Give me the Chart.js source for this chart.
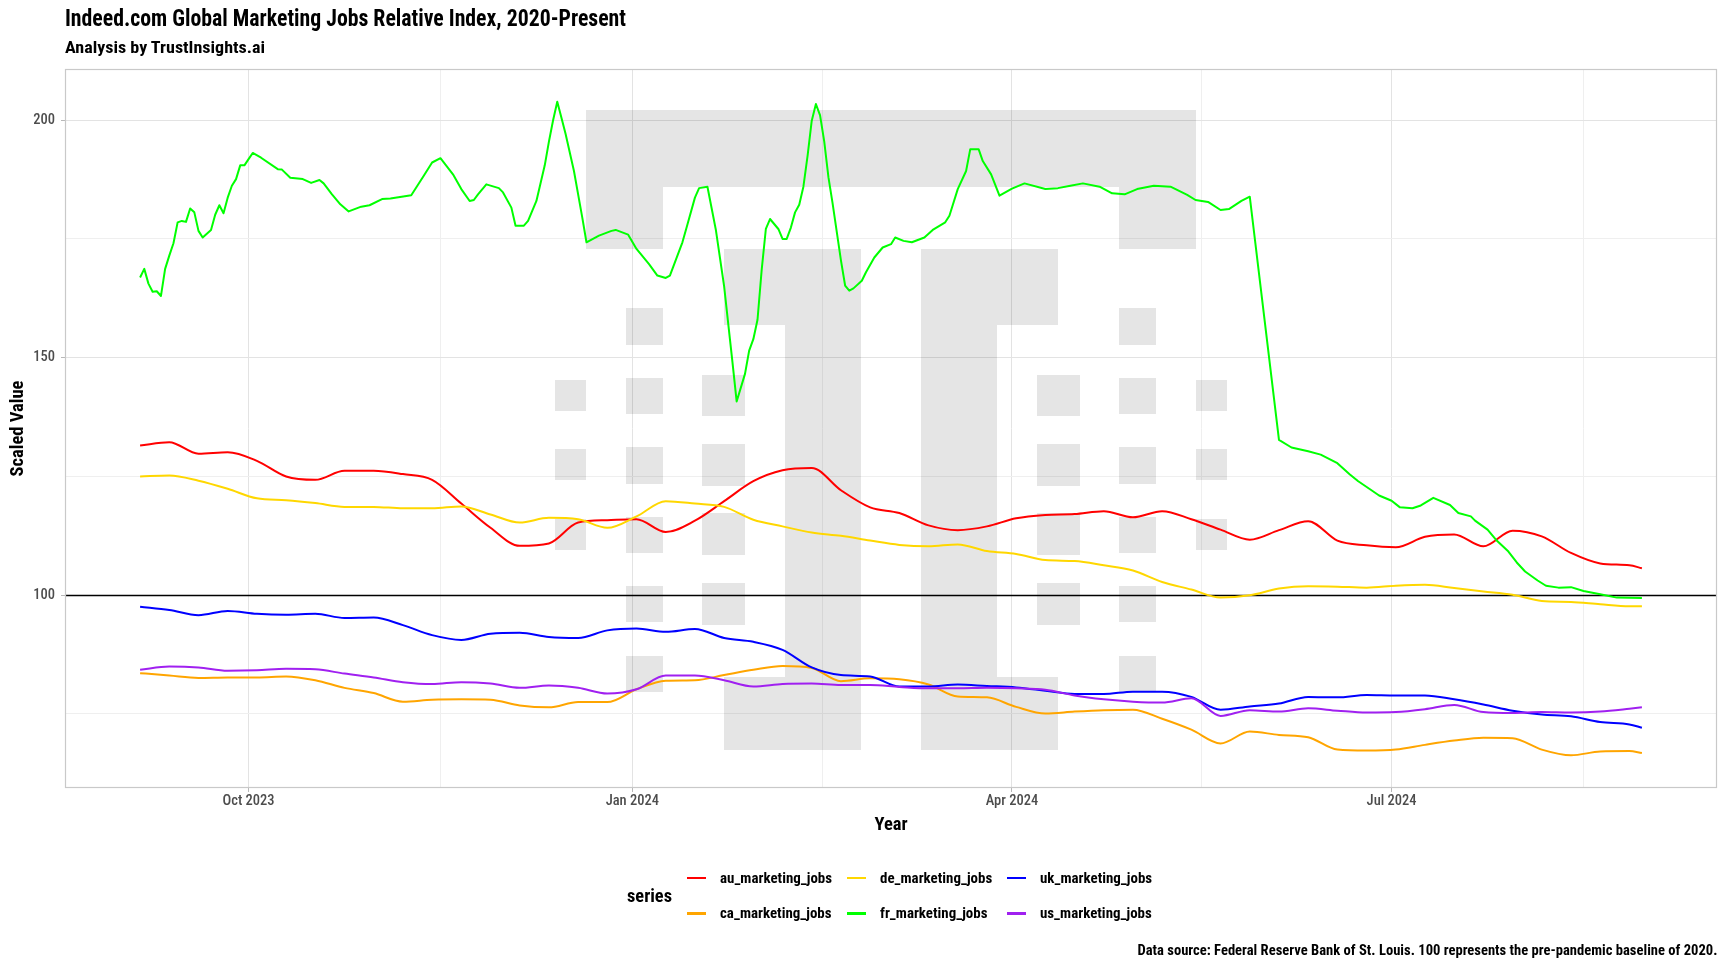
<!DOCTYPE html>
<html>
<head>
<meta charset="utf-8">
<script src="https://cdn.jsdelivr.net/npm/chart.js@4.4.1/dist/chart.umd.min.js"></script>
<style>
  html, body { margin: 0; padding: 0; background: #ffffff; }
  #wrap { position: relative; width: 1728px; height: 972px; overflow: hidden; background: #fff; }
  #c { position: absolute; left: 0; top: 0; }
  .t { position: absolute; font-family: "Roboto Condensed", Roboto, "Liberation Sans", sans-serif; color: #000; white-space: nowrap; }
  #title { left: 65px; top: 5px; font-size: 23px; font-weight: 700; line-height: 27px; transform-origin: 0 50%; }
  #subtitle { left: 65px; top: 37px; font-size: 17px; font-weight: 700; line-height: 21px; transform-origin: 0 50%; }
  #caption { right: 11px; top: 941px; font-size: 14.5px; font-weight: 700; line-height: 20px; transform-origin: 100% 50%; }
  #legend { position: absolute; left: 627px; top: 860px; display: flex; align-items: center;
            font-family: "Roboto Condensed", Roboto, "Liberation Sans", sans-serif; }
  #legend .lt { font-size: 18.5px; font-weight: 700; width: 59.6px; flex: 0 0 59.6px; }
  #legend .lt span { display: inline-block; transform-origin: 0 50%; }
  #legend .grid { display: grid; grid-auto-flow: column; grid-template-rows: 35.6px 35.6px; grid-auto-columns: 160.4px; }
  #legend .item { display: flex; align-items: center; font-size: 15px; font-weight: 700; white-space: nowrap; }
  #legend .key { flex: 0 0 19px; width: 19px; height: 2.6px; margin-right: 14px; }
  #legend .lbl { display: inline-block; transform-origin: 0 50%; }
</style>
</head>
<body>
<div id="wrap">
  <canvas id="c" width="1728" height="972"></canvas>
  <div class="t" id="title">Indeed.com Global Marketing Jobs Relative Index, 2020-Present</div>
  <div class="t" id="subtitle">Analysis by TrustInsights.ai</div>
  <div class="t" id="caption">Data source: Federal Reserve Bank of St. Louis. 100 represents the pre-pandemic baseline of 2020.</div>
  <div id="legend"><div class="lt"><span id="legendTitle">series</span></div><div class="grid" id="legendGrid"></div></div>
</div>
<script>
// ---------------- DATA ----------------
const weekDates = ["2023-09-05","2023-09-12","2023-09-19","2023-09-26","2023-10-03","2023-10-10","2023-10-17","2023-10-24","2023-10-31","2023-11-07","2023-11-14","2023-11-21","2023-11-28","2023-12-05","2023-12-12","2023-12-19","2023-12-26","2024-01-02","2024-01-09","2024-01-16","2024-01-23","2024-01-30","2024-02-06","2024-02-13","2024-02-20","2024-02-27","2024-03-05","2024-03-12","2024-03-19","2024-03-26","2024-04-02","2024-04-09","2024-04-16","2024-04-23","2024-04-30","2024-05-07","2024-05-14","2024-05-21","2024-05-28","2024-06-04","2024-06-11","2024-06-18","2024-06-25","2024-07-02","2024-07-09","2024-07-16","2024-07-23","2024-07-30","2024-08-06","2024-08-13","2024-08-20","2024-08-27","2024-08-30"];

const auValues = [131.5,132.2,129.8,130.1,128.3,125.0,124.3,126.2,126.2,125.5,124.3,119.3,114.2,110.4,110.9,115.3,115.8,116.0,113.3,115.7,119.8,124.0,126.3,126.8,122.1,118.5,117.3,114.7,113.7,114.5,116.2,116.9,117.1,117.7,116.4,117.7,116.0,113.8,111.7,113.7,115.6,111.5,110.5,110.1,112.3,112.8,110.3,113.6,112.4,108.9,106.7,106.3,105.7];

const caValues = [83.6,83.1,82.6,82.7,82.7,82.9,82.1,80.5,79.4,77.6,78.0,78.1,78.0,76.8,76.4,77.5,77.5,80.2,82.0,82.1,83.2,84.3,85.1,84.7,81.9,82.5,82.3,81.2,78.7,78.5,76.5,75.1,75.5,75.8,75.9,74.0,71.7,68.8,71.3,70.6,70.1,67.5,67.3,67.5,68.5,69.4,70.0,69.9,67.5,66.3,67.1,67.2,66.8];

const deValues = [125.0,125.2,124.1,122.4,120.4,120.0,119.4,118.6,118.6,118.3,118.3,118.7,117.0,115.3,116.3,116.0,114.2,116.6,119.8,119.3,118.6,115.9,114.5,113.2,112.5,111.5,110.6,110.3,110.7,109.3,108.7,107.4,107.2,106.3,105.2,102.8,101.2,99.5,100.0,101.4,101.9,101.8,101.6,102.0,102.2,101.5,100.8,100.1,98.8,98.6,98.1,97.7,97.7];

const ukValues = [97.6,96.9,95.8,96.7,96.1,95.9,96.1,95.2,95.3,93.7,91.6,90.6,91.9,92.1,91.2,91.0,92.6,93.0,92.3,92.9,91.0,90.2,88.5,84.8,83.2,82.9,80.8,80.8,81.2,80.9,80.6,79.9,79.2,79.2,79.7,79.7,78.6,75.9,76.6,77.2,78.6,78.5,79.0,78.9,78.9,78.1,77.0,75.7,74.9,74.5,73.3,72.8,72.1];

const usValues = [84.3,85.0,84.8,84.1,84.2,84.5,84.4,83.5,82.7,81.7,81.3,81.7,81.4,80.5,81.0,80.5,79.3,80.2,83.1,83.1,82.1,80.8,81.3,81.4,81.1,81.1,80.7,80.4,80.4,80.5,80.4,80.1,78.9,78.1,77.6,77.4,78.3,74.6,75.8,75.5,76.2,75.7,75.3,75.4,76.0,76.9,75.4,75.2,75.4,75.3,75.5,76.1,76.4];

const frDates = ["2023-09-05","2023-09-06","2023-09-07","2023-09-08","2023-09-09","2023-09-10","2023-09-11","2023-09-12","2023-09-13","2023-09-14","2023-09-15","2023-09-16","2023-09-17","2023-09-18","2023-09-19","2023-09-20","2023-09-22","2023-09-23","2023-09-24","2023-09-25","2023-09-26","2023-09-27","2023-09-28","2023-09-29","2023-09-30","2023-10-01","2023-10-02","2023-10-04","2023-10-08","2023-10-09","2023-10-11","2023-10-14","2023-10-16","2023-10-18","2023-10-19","2023-10-21","2023-10-23","2023-10-25","2023-10-28","2023-10-30","2023-11-02","2023-11-04","2023-11-09","2023-11-12","2023-11-14","2023-11-16","2023-11-19","2023-11-21","2023-11-23","2023-11-24","2023-11-25","2023-11-27","2023-11-30","2023-12-01","2023-12-03","2023-12-04","2023-12-06","2023-12-07","2023-12-09","2023-12-11","2023-12-12","2023-12-13","2023-12-14","2023-12-15","2023-12-16","2023-12-18","2023-12-20","2023-12-21","2023-12-24","2023-12-27","2023-12-28","2023-12-31","2024-01-02","2024-01-05","2024-01-07","2024-01-09","2024-01-10","2024-01-13","2024-01-14","2024-01-16","2024-01-17","2024-01-19","2024-01-21","2024-01-22","2024-01-23","2024-01-24","2024-01-25","2024-01-26","2024-01-28","2024-01-29","2024-01-30","2024-01-31","2024-02-01","2024-02-02","2024-02-03","2024-02-05","2024-02-06","2024-02-07","2024-02-08","2024-02-09","2024-02-10","2024-02-11","2024-02-12","2024-02-13","2024-02-14","2024-02-15","2024-02-16","2024-02-17","2024-02-18","2024-02-19","2024-02-20","2024-02-21","2024-02-22","2024-02-23","2024-02-25","2024-02-26","2024-02-28","2024-03-01","2024-03-03","2024-03-04","2024-03-06","2024-03-08","2024-03-11","2024-03-13","2024-03-16","2024-03-17","2024-03-19","2024-03-21","2024-03-22","2024-03-24","2024-03-25","2024-03-27","2024-03-29","2024-04-01","2024-04-04","2024-04-09","2024-04-12","2024-04-15","2024-04-18","2024-04-22","2024-04-25","2024-04-28","2024-05-01","2024-05-05","2024-05-09","2024-05-13","2024-05-15","2024-05-18","2024-05-21","2024-05-23","2024-05-26","2024-05-28","2024-06-04","2024-06-07","2024-06-11","2024-06-14","2024-06-18","2024-06-21","2024-06-23","2024-06-26","2024-06-28","2024-07-01","2024-07-03","2024-07-06","2024-07-08","2024-07-11","2024-07-15","2024-07-17","2024-07-20","2024-07-21","2024-07-24","2024-07-26","2024-07-29","2024-07-31","2024-08-02","2024-08-05","2024-08-07","2024-08-10","2024-08-13","2024-08-16","2024-08-20","2024-08-24","2024-08-30"];

const frValues = [166.9,168.7,165.6,163.9,164.0,163.0,168.7,171.5,174.1,178.5,178.8,178.6,181.4,180.6,176.7,175.3,176.9,180.1,182.1,180.4,183.7,186.2,187.6,190.5,190.5,191.8,193.1,192.1,189.7,189.6,187.9,187.6,186.8,187.4,186.7,184.4,182.3,180.8,181.8,182.1,183.4,183.5,184.2,188.3,191.1,192.0,188.6,185.5,183.0,183.2,184.4,186.5,185.7,184.8,181.6,177.8,177.8,178.8,183.0,190.5,195.5,200.0,203.9,200.5,197.1,189.3,179.5,174.3,175.7,176.7,176.9,175.9,172.9,169.7,167.3,166.8,167.3,174.3,177.4,183.7,185.7,186.0,177.0,171.0,165.0,157.0,149.0,140.8,146.6,151.5,153.9,158.0,168.5,177.1,179.2,177.1,175.0,175.0,177.4,180.6,182.2,186.0,192.5,199.9,203.4,201.0,195.5,188.0,182.5,176.5,170.5,165.2,164.1,164.6,166.2,168.0,171.1,173.2,173.9,175.3,174.6,174.3,175.3,176.9,178.5,179.9,185.5,189.3,193.9,193.9,191.4,188.6,184.1,185.6,186.7,185.5,185.7,186.2,186.7,186.0,184.6,184.4,185.5,186.2,186.0,184.3,183.2,182.8,181.1,181.3,183.0,183.9,132.7,131.1,130.3,129.6,127.8,125.4,124.0,122.2,121.0,119.9,118.5,118.3,118.9,120.5,119.0,117.3,116.6,115.7,113.8,111.7,109.2,106.9,105.0,103.1,102.0,101.6,101.7,100.9,100.2,99.5,99.4];

const seriesNames = ["au_marketing_jobs","ca_marketing_jobs","de_marketing_jobs","fr_marketing_jobs","uk_marketing_jobs","us_marketing_jobs"];
const seriesColors = ["#FF0000","#FFA500","#FFD700","#00FF00","#0000FF","#A020F0"];

const xTickDates = ["2023-07-01","2023-10-01","2024-01-01","2024-04-01","2024-07-01","2024-10-01"];
const xTickLabels = ["Jul 2023","Oct 2023","Jan 2024","Apr 2024","Jul 2024","Oct 2024"];
const yTickValues = [50,100,150,200,250];
const baselineValue = 100;

// ---------------- BUILD ----------------
const FONT = '"Roboto Condensed", Roboto, "Liberation Sans", sans-serif';
const DAY = 86400000;
const toDay = s => Date.parse(s + 'T00:00:00Z') / DAY;

const seriesValues = [auValues, caValues, deValues, frValues, ukValues, usValues];
const seriesDates = [weekDates, weekDates, weekDates, frDates, weekDates, weekDates];

const datasets = seriesNames.map((name, i) => ({
  label: name,
  data: seriesDates[i].map((d, j) => ({ x: toDay(d), y: seriesValues[i][j] })),
  borderColor: seriesColors[i],
  backgroundColor: seriesColors[i],
  borderWidth: 2,
  pointRadius: 0,
  pointHoverRadius: 0,
  tension: 0,
  cubicInterpolationMode: seriesDates[i] === weekDates ? 'monotone' : 'default',
  fill: false,
  borderJoinStyle: 'round',
  order: seriesNames.length - i
}));

const allX = datasets.flatMap(d => d.data.map(p => p.x));
const allY = datasets.flatMap(d => d.data.map(p => p.y));
const xLo = Math.min(...allX), xHi = Math.max(...allX);
const yLo = Math.min(...allY), yHi = Math.max(...allY);
const xMin = xLo - (xHi - xLo) * 0.05, xMax = xHi + (xHi - xLo) * 0.05;
const yMin = yLo - (yHi - yLo) * 0.05, yMax = yHi + (yHi - yLo) * 0.05;

function buildTicks(values, labels, lo, hi) {
  const out = [];
  values.forEach((v, i) => {
    out.push({ value: v, text: labels[i], minor: false });
    if (i < values.length - 1) out.push({ value: (v + values[i + 1]) / 2, text: '', minor: true });
  });
  return out.filter(t => t.value >= lo && t.value <= hi);
}
const xTicks = buildTicks(xTickDates.map(toDay), xTickLabels, xMin, xMax);
const yTicks = buildTicks(yTickValues, yTickValues.map(String), yMin, yMax);

const GRID_MAJOR = '#e3e3e3';
const GRID_MINOR = '#efefef';
const TICK_COL = '#b8b8b8';

// watermark (left half, fractions of plot panel; mirrored about the centre)
const watermarkHalf = [
  [0.3156, 0.5000, 0.0576, 0.1641],
  [0.3156, 0.3618, 0.1641, 0.2497],
  [0.3989, 0.4817, 0.2497, 0.3567],
  [0.4356, 0.4817, 0.3567, 0.8457],
  [0.3989, 0.4817, 0.8457, 0.9478],
  [0.2969, 0.3156, 0.4325, 0.4754], [0.2969, 0.3156, 0.5291, 0.5721], [0.2969, 0.3156, 0.6257, 0.6688],
  [0.3396, 0.3618, 0.3329, 0.3835], [0.3396, 0.3618, 0.4294, 0.4801], [0.3396, 0.3618, 0.5260, 0.5767],
  [0.3396, 0.3618, 0.6226, 0.6733], [0.3396, 0.3618, 0.7193, 0.7698], [0.3396, 0.3618, 0.8159, 0.8664],
  [0.3856, 0.4116, 0.4249, 0.4832], [0.3856, 0.4116, 0.5213, 0.5797], [0.3856, 0.4116, 0.6180, 0.6763],
  [0.3856, 0.4116, 0.7147, 0.7729]
];

const panelPlugin = {
  id: 'panel',
  beforeDatasetsDraw(chart) {
    const { ctx, chartArea: a } = chart;
    ctx.save();
    ctx.beginPath();
    const addRect = (x0, x1, y0, y1) => {
      const px0 = Math.round(a.left + x0 * a.width), px1 = Math.round(a.left + x1 * a.width);
      const py0 = Math.round(a.top + y0 * a.height), py1 = Math.round(a.top + y1 * a.height);
      ctx.rect(px0, py0, px1 - px0, py1 - py0);
    };
    watermarkHalf.forEach(r => { addRect(r[0], r[1], r[2], r[3]); addRect(1 - r[1], 1 - r[0], r[2], r[3]); });
    ctx.fillStyle = 'rgba(0,0,0,0.10)';
    ctx.fill('nonzero');
    const y = Math.round(chart.scales.y.getPixelForValue(baselineValue)) + 0.5;
    ctx.beginPath();
    ctx.moveTo(a.left, y); ctx.lineTo(a.right, y);
    ctx.strokeStyle = '#000'; ctx.lineWidth = 1.4;
    ctx.stroke();
    ctx.restore();
  },
  afterDatasetsDraw(chart) {
    const { ctx, chartArea: a } = chart;
    ctx.save();
    ctx.strokeStyle = '#c9c9c9';
    ctx.lineWidth = 1.2;
    ctx.strokeRect(Math.round(a.left) + 0.5, Math.round(a.top) + 0.5, Math.round(a.width) - 1, Math.round(a.height) - 1);
    ctx.restore();
  }
};

const chart = new Chart(document.getElementById('c'), {
  type: 'line',
  data: { datasets },
  options: {
    responsive: false,
    animation: false,
    devicePixelRatio: 1,
    layout: { padding: { top: 69, right: 11, bottom: 134, left: 0 } },
    plugins: { legend: { display: false }, tooltip: { enabled: false }, title: { display: false } },
    elements: { line: { borderCapStyle: 'butt' } },
    scales: {
      x: {
        type: 'linear',
        min: xMin, max: xMax,
        afterBuildTicks: s => { s.ticks = xTicks.map(t => ({ value: t.value, text: t.text, minor: t.minor })); },
        afterFit: s => { s.height = 50; },
        ticks: {
          autoSkip: false, maxRotation: 0, minRotation: 0, padding: 1,
          color: '#4d4d4d', font: { family: FONT, size: 14.5, weight: 500 },
          callback: (v, i, ticks) => ticks[i].text
        },
        grid: {
          drawTicks: true, tickLength: 4,
          color: c => (c.tick && c.tick.minor) ? GRID_MINOR : GRID_MAJOR,
          tickColor: c => (c.tick && c.tick.minor) ? 'rgba(0,0,0,0)' : TICK_COL,
          lineWidth: 1
        },
        border: { display: false },
        title: { display: true, text: 'Year', color: '#000', font: { family: FONT, size: 18.5, weight: 'bold' }, padding: { top: 0, bottom: 2 } }
      },
      y: {
        type: 'linear',
        min: yMin, max: yMax,
        afterBuildTicks: s => { s.ticks = yTicks.map(t => ({ value: t.value, text: t.text, minor: t.minor })); },
        afterFit: s => { s.width = 65; },
        ticks: {
          autoSkip: false, padding: 6,
          color: '#4d4d4d', font: { family: FONT, size: 14.5, weight: 500 },
          callback: (v, i, ticks) => ticks[i].text
        },
        grid: {
          drawTicks: true, tickLength: 4,
          color: c => (c.tick && c.tick.minor) ? GRID_MINOR : GRID_MAJOR,
          tickColor: c => (c.tick && c.tick.minor) ? 'rgba(0,0,0,0)' : TICK_COL,
          lineWidth: 1
        },
        border: { display: false },
        title: { display: true, text: 'Scaled Value', color: '#000', font: { family: FONT, size: 18.5, weight: 'bold' }, padding: { top: 7, bottom: 0 } }
      }
    }
  },
  plugins: [panelPlugin]
});

// HTML legend built from the chart's datasets (column-major, 2 rows like ggplot)
const grid = document.getElementById('legendGrid');
chart.data.datasets.forEach(ds => {
  const item = document.createElement('div');
  item.className = 'item';
  const key = document.createElement('span');
  key.className = 'key';
  key.style.background = ds.borderColor;
  const txt = document.createElement('span');
  txt.className = 'lbl';
  txt.textContent = ds.label;
  item.appendChild(key); item.appendChild(txt);
  grid.appendChild(item);
});

// condense HTML text to the reference widths
function fitWidth(el, target) {
  el.style.transform = 'none';
  const w = el.getBoundingClientRect().width;
  if (w > 0) el.style.transform = 'scaleX(' + (target / w) + ')';
}
function condense() {
  fitWidth(document.getElementById('title'), 561);
  fitWidth(document.getElementById('subtitle'), 200);
  fitWidth(document.getElementById('caption'), 580);
  fitWidth(document.getElementById('legendTitle'), 45);
  const lbls = Array.from(document.querySelectorAll('#legend .lbl'));
  lbls.forEach(l => l.style.transform = 'none');
  const k = 112 / lbls[0].getBoundingClientRect().width;
  lbls.forEach(l => l.style.transform = 'scaleX(' + k + ')');
}
condense();
if (document.fonts && document.fonts.ready) document.fonts.ready.then(condense);
</script>
</body>
</html>
